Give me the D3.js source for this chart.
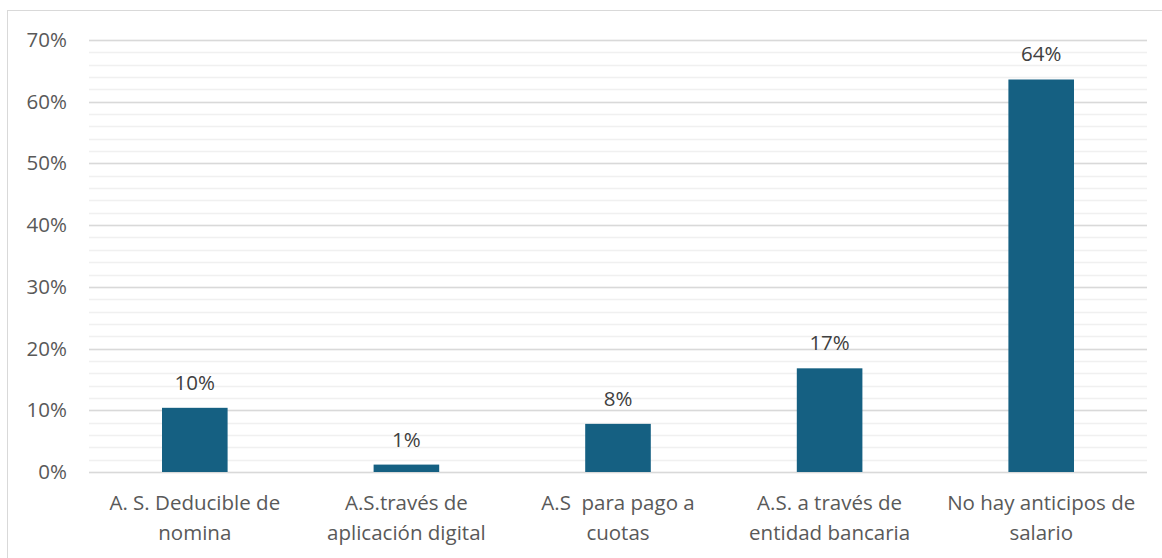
<!DOCTYPE html>
<html>
<head>
<meta charset="utf-8">
<script src="https://cdn.jsdelivr.net/npm/d3@7"></script>
<style>
  html, body { margin: 0; padding: 0; background: #fff; }
  svg { display: block; font-family: "Open Sans", "Liberation Sans", sans-serif; }
  .cat { white-space: pre; }
</style>
</head>
<body>
<svg id="chart" width="1162" height="558"></svg>
<script>
// Anticipos de salario: share of responses per type
const categories = [
  ["A. S. Deducible de", "nomina"],
  ["A.S.través de", "aplicación digital"],
  ["A.S  para pago a", "cuotas"],
  ["A.S. a través de", "entidad bancaria"],
  ["No hay anticipos de", "salario"]
];
const values = [0.104, 0.012, 0.078, 0.168, 0.636];
const yTicks = [0, 0.1, 0.2, 0.3, 0.4, 0.5, 0.6, 0.7];
const yMinorTicks = d3.range(0, 0.7001, 0.02);

const W = 1162, H = 558;
const FONT = 20.5;
const margin = { left: 89, right: 15, top: 40, bottom: 86 };
const svg = d3.select("#chart");

// outer frame
svg.append("rect")
  .attr("x", 7.5).attr("y", 10.5)
  .attr("width", W - 7).attr("height", H)
  .attr("fill", "#fff").attr("stroke", "#d9d9d9").attr("stroke-width", 1);

const x = d3.scaleBand()
  .domain(d3.range(categories.length))
  .range([margin.left, W - margin.right])
  .paddingInner(0.69).paddingOuter(0.345);

const y = d3.scaleLinear().domain([0, 0.7]).range([H - margin.bottom, margin.top]);

// minor gridlines
svg.append("g").selectAll("line").data(yMinorTicks).join("line")
  .attr("x1", margin.left).attr("x2", W - margin.right)
  .attr("y1", d => Math.round(y(d)) + 0.5).attr("y2", d => Math.round(y(d)) + 0.5)
  .attr("stroke", "#f0f0f0").attr("stroke-width", 1.3);

// major gridlines
svg.append("g").selectAll("line").data(yTicks).join("line")
  .attr("x1", margin.left).attr("x2", W - margin.right)
  .attr("y1", d => Math.round(y(d)) + 0.5).attr("y2", d => Math.round(y(d)) + 0.5)
  .attr("stroke", "#d9d9d9").attr("stroke-width", 1.3);

// y axis labels
const yAxis = d3.axisLeft(y).tickValues(yTicks).tickFormat(d3.format(".0%")).tickSize(0).tickPadding(22);
svg.append("g")
  .attr("transform", `translate(${margin.left},0)`)
  .call(yAxis)
  .attr("font-size", FONT)
  .attr("font-family", "'Open Sans', 'Liberation Sans', sans-serif")
  .call(g => g.select(".domain").remove())
  .call(g => g.selectAll("text").attr("fill", "#595959"));

// bars
svg.append("g").selectAll("rect").data(values).join("rect")
  .attr("x", (d, i) => x(i))
  .attr("width", x.bandwidth())
  .attr("y", d => y(d))
  .attr("height", d => y(0) - y(d))
  .attr("fill", "#156082");

// value labels
svg.append("g").selectAll("text").data(values).join("text")
  .attr("x", (d, i) => x(i) + x.bandwidth() / 2)
  .attr("y", d => y(d) - 18)
  .attr("text-anchor", "middle")
  .attr("fill", "#404040").attr("font-size", FONT)
  .text(d => d3.format(".0%")(d));

// category labels (two lines each)
const catG = svg.append("g").selectAll("text").data(categories).join("text")
  .attr("class", "cat")
  .attr("text-anchor", "middle")
  .attr("fill", "#595959").attr("font-size", FONT);
catG.selectAll("tspan").data((d, i) => d.map(t => ({ t, i }))).join("tspan")
  .attr("x", d => x(d.i) + x.bandwidth() / 2)
  .attr("y", (d, j) => 510 + j * 30)
  .text(d => d.t);
</script>
</body>
</html>
